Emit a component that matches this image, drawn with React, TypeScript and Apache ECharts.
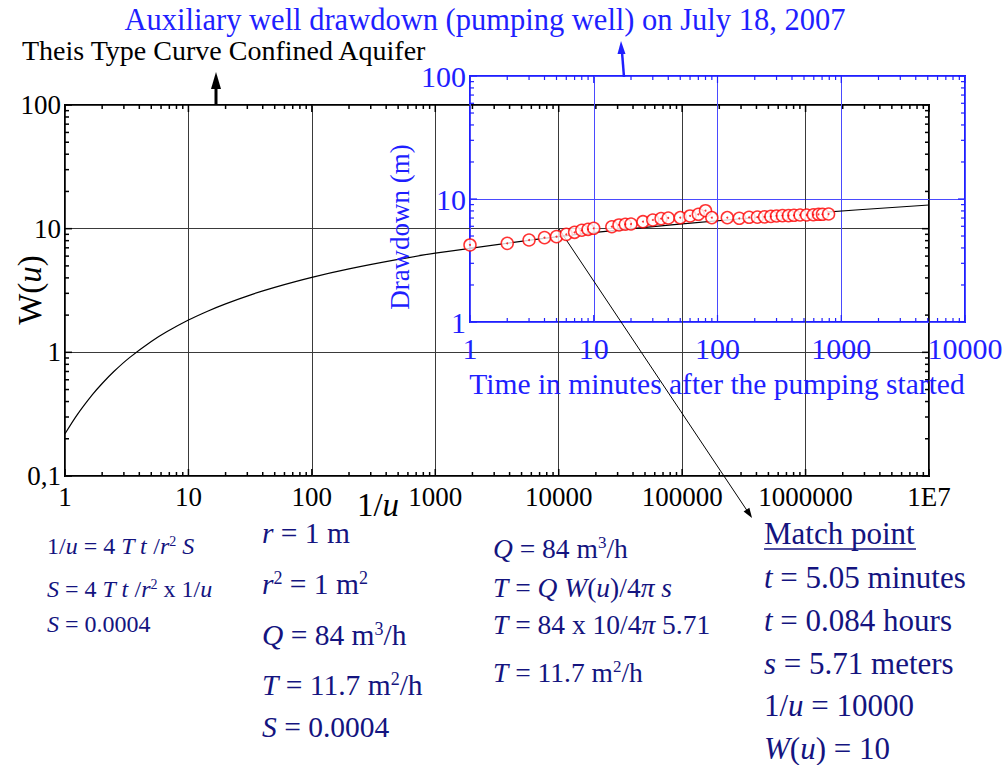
import React, { useEffect, useRef } from "react";
import * as echarts from "echarts";

// Theis well function W(u) tabulated against 1/u
const invU = [1, 1.25, 1.667, 2, 2.5, 3.333, 5, 6.667, 10, 14.29, 20, 33.33, 50, 100, 200, 500, 1000, 10000, 100000, 1000000, 10000000];
const wellW = [0.2194, 0.3106, 0.4544, 0.5598, 0.7024, 0.9057, 1.2227, 1.4645, 1.8229, 2.1508, 2.4679, 2.9591, 3.3547, 4.0379, 4.7261, 5.6394, 6.3315, 8.6332, 10.9357, 13.2383, 15.5409];

// Pumping-well drawdown, July 18, 2007
const timeMin = [1, 2, 3, 4, 5, 6, 7, 8, 9, 10, 14, 16, 18, 20, 25, 30, 35, 40, 50, 60, 70, 80, 90, 120, 150, 180, 210, 240, 270, 300, 335, 375, 415, 465, 525, 595, 655, 705, 790];
const drawdownM = [4.23, 4.36, 4.64, 4.85, 4.94, 5.16, 5.36, 5.57, 5.67, 5.78, 5.95, 6.15, 6.23, 6.26, 6.54, 6.75, 6.92, 7.01, 7.05, 7.28, 7.51, 8.03, 7.05, 7.05, 6.97, 7.1, 7.12, 7.16, 7.22, 7.28, 7.32, 7.32, 7.37, 7.41, 7.41, 7.45, 7.51, 7.51, 7.55];

// Axis ranges (decades)
const mainXRange = [1, 1e7];
const mainYRange = [0.1, 100];
const insetXRange = [1, 1e4];
const insetYRange = [1, 100];

const SERIF = "'Liberation Serif', 'DejaVu Serif', serif";
const BLUE = "#1f1fff";
const BLUE_GRID = "#4a4aff";
const NAVY = "#14147f";

// log-axis tick positions: decades plus 2..9 within each decade
function logTicks(min: number, max: number): number[] {
  const out: number[] = [];
  const e0 = Math.round(Math.log10(min));
  const e1 = Math.round(Math.log10(max));
  for (let e = e0; e <= e1; e++) {
    const base = Math.pow(10, e);
    out.push(base);
    if (e < e1) for (let m = 2; m <= 9; m++) out.push(m * base);
  }
  return out;
}

function isDecade(v: number) {
  const l = Math.log10(v);
  return Math.abs(l - Math.round(l)) < 1e-6;
}

function tickSeries(gi: number, xr: number[], yr: number[], color: string, major: number, minor: number, lw: number) {
  const style = { stroke: color, lineWidth: lw };
  const xs = {
    type: "custom",
    xAxisIndex: gi,
    yAxisIndex: gi,
    silent: true,
    clip: false,
    z: 5,
    data: logTicks(xr[0], xr[1]).map((v) => [v, yr[0]]),
    renderItem: (params: any, api: any) => {
      const cs = params.coordSys;
      const v = api.value(0);
      const px = api.coord([v, yr[0]])[0];
      const len = isDecade(v) ? major : minor;
      const b = cs.y + cs.height;
      return {
        type: "group",
        children: [
          { type: "line", shape: { x1: px, y1: b, x2: px, y2: b - len }, style },
          { type: "line", shape: { x1: px, y1: cs.y, x2: px, y2: cs.y + len }, style },
        ],
      };
    },
  };
  const ys = {
    type: "custom",
    xAxisIndex: gi,
    yAxisIndex: gi,
    silent: true,
    clip: false,
    z: 5,
    data: logTicks(yr[0], yr[1]).map((v) => [xr[0], v]),
    renderItem: (params: any, api: any) => {
      const cs = params.coordSys;
      const v = api.value(1);
      const py = api.coord([xr[0], v])[1];
      const len = isDecade(v) ? major : minor;
      const r = cs.x + cs.width;
      return {
        type: "group",
        children: [
          { type: "line", shape: { x1: cs.x, y1: py, x2: cs.x + len, y2: py }, style },
          { type: "line", shape: { x1: r, y1: py, x2: r - len, y2: py }, style },
        ],
      };
    },
  };
  return [xs, ys];
}

function richStyles(size: number) {
  return {
    i: { fontFamily: SERIF, fontSize: size, fontStyle: "italic", fill: NAVY },
    s: { fontFamily: SERIF, fontSize: Math.round(size * 0.6), fill: NAVY, verticalAlign: "top" },
  };
}

function formula(text: string, x: number, y: number, size: number) {
  return {
    type: "text",
    x,
    y,
    z: 20,
    style: {
      text,
      fontFamily: SERIF,
      fontSize: size,
      fill: NAVY,
      align: "left",
      verticalAlign: "middle",
      rich: richStyles(size),
    },
  };
}

function decadeLabel(v: number) {
  const e = Math.round(Math.log10(v));
  if (e === 7) return "1E7";
  if (e === -1) return "0,1";
  return String(Math.pow(10, e));
}

export default function App() {
  const ref = useRef<HTMLDivElement>(null);

  useEffect(() => {
    if (!ref.current) return;
    const chart = echarts.init(ref.current, undefined, { renderer: "svg" });

    const axisCommon = {
      type: "log",
      logBase: 10,
      axisLine: { show: false },
      axisTick: { show: false },
    };

    const option: any = {
      animation: false,
      backgroundColor: "#ffffff",
      grid: [
        { left: 65, top: 105, width: 864, height: 371, show: true, borderColor: "#000", borderWidth: 2, backgroundColor: "transparent", outerBoundsMode: "none", containLabel: false },
        { left: 470, top: 76, width: 495, height: 246, show: true, borderColor: BLUE, borderWidth: 2, backgroundColor: "transparent", outerBoundsMode: "none", containLabel: false },
      ],
      xAxis: [
        {
          ...axisCommon,
          gridIndex: 0,
          min: mainXRange[0],
          max: mainXRange[1],
          splitLine: { show: true, lineStyle: { color: "#3a3a3a", width: 1 } },
          axisLabel: { formatter: decadeLabel, fontFamily: SERIF, fontSize: 27, color: "#000", margin: 7, showMinLabel: true, showMaxLabel: true },
        },
        {
          ...axisCommon,
          gridIndex: 1,
          min: insetXRange[0],
          max: insetXRange[1],
          splitLine: { show: true, lineStyle: { color: BLUE_GRID, width: 1 } },
          axisLabel: { formatter: decadeLabel, fontFamily: SERIF, fontSize: 30, color: BLUE, margin: 11, showMinLabel: true, showMaxLabel: true },
        },
      ],
      yAxis: [
        {
          ...axisCommon,
          gridIndex: 0,
          min: mainYRange[0],
          max: mainYRange[1],
          splitLine: { show: true, lineStyle: { color: "#3a3a3a", width: 1 } },
          axisLabel: { formatter: decadeLabel, fontFamily: SERIF, fontSize: 27, color: "#000", margin: 4, showMinLabel: true, showMaxLabel: true },
        },
        {
          ...axisCommon,
          gridIndex: 1,
          min: insetYRange[0],
          max: insetYRange[1],
          splitLine: { show: true, lineStyle: { color: BLUE_GRID, width: 1 } },
          axisLabel: { formatter: decadeLabel, fontFamily: SERIF, fontSize: 30, color: BLUE, margin: 4, showMinLabel: true, showMaxLabel: true },
        },
      ],
      series: [
        ...tickSeries(0, mainXRange, mainYRange, "#000", 7, 4, 1.5),
        ...tickSeries(1, insetXRange, insetYRange, BLUE, 7, 4, 1.2),
        {
          name: "W(u)",
          type: "line",
          xAxisIndex: 0,
          yAxisIndex: 0,
          data: invU.map((x, i) => [x, wellW[i]]),
          showSymbol: false,
          smooth: 0.3,
          lineStyle: { color: "#000", width: 1.2 },
          silent: true,
          z: 6,
        },
        {
          name: "Drawdown",
          type: "scatter",
          xAxisIndex: 1,
          yAxisIndex: 1,
          data: timeMin.map((t, i) => [t, drawdownM[i]]),
          symbol: "circle",
          symbolSize: 12,
          itemStyle: { color: "#ffffff", borderColor: "#ff0000", borderWidth: 1.5 },
          z: 8,
        },
        {
          name: "Drawdown centre",
          type: "scatter",
          xAxisIndex: 1,
          yAxisIndex: 1,
          data: timeMin.map((t, i) => [t, drawdownM[i]]),
          symbol: "circle",
          symbolSize: 2,
          itemStyle: { color: "#ff0000" },
          z: 9,
        },
      ],
      graphic: [
        // titles
        {
          type: "text", x: 485, y: 20, z: 20,
          style: { text: "Auxiliary well drawdown (pumping well) on July 18, 2007", fontFamily: SERIF, fontSize: 30.5, fill: BLUE, align: "center", verticalAlign: "middle" },
        },
        {
          type: "text", x: 22, y: 50, z: 20,
          style: { text: "Theis Type Curve Confined Aquifer", fontFamily: SERIF, fontSize: 28, fill: "#000", align: "left", verticalAlign: "middle" },
        },
        // arrow to the type-curve title
        { type: "line", z: 20, shape: { x1: 216, y1: 105, x2: 216, y2: 86 }, style: { stroke: "#000", lineWidth: 3 } },
        { type: "polygon", z: 20, shape: { points: [[216, 72], [211, 89], [221, 89]] }, style: { fill: "#000" } },
        // arrow to the drawdown title
        { type: "line", z: 20, shape: { x1: 624, y1: 77, x2: 622, y2: 52 }, style: { stroke: BLUE, lineWidth: 2.5 } },
        { type: "polygon", z: 20, shape: { points: [[621, 41], [617.5, 54], [625.5, 54]] }, style: { fill: BLUE } },
        // match-point arrow
        { type: "line", z: 7, shape: { x1: 559, y1: 229, x2: 750, y2: 515 }, style: { stroke: "#000", lineWidth: 1 } },
        { type: "polygon", z: 20, shape: { points: [[752, 518], [743.6, 511.6], [749.4, 507.8]] }, style: { fill: "#000" } },
        // axis titles
        {
          type: "text", x: 30, y: 290, rotation: Math.PI / 2, z: 20,
          style: { text: "W({i|u})", fontFamily: SERIF, fontSize: 33, fill: "#000", align: "center", verticalAlign: "middle", rich: { i: { fontFamily: SERIF, fontSize: 33, fontStyle: "italic", fill: "#000" } } },
        },
        {
          type: "text", x: 378, y: 505, z: 20,
          style: { text: "1/{i|u}", fontFamily: SERIF, fontSize: 33, fill: "#000", align: "center", verticalAlign: "middle", rich: { i: { fontFamily: SERIF, fontSize: 33, fontStyle: "italic", fill: "#000" } } },
        },
        {
          type: "text", x: 400, y: 227, rotation: Math.PI / 2, z: 20,
          style: { text: "Drawdown (m)", fontFamily: SERIF, fontSize: 27, fill: BLUE, align: "center", verticalAlign: "middle" },
        },
        {
          type: "text", x: 717, y: 384, z: 20,
          style: { text: "Time in minutes after the pumping started", fontFamily: SERIF, fontSize: 29.5, fill: BLUE, align: "center", verticalAlign: "middle" },
        },
        // formulas, left block
        formula("1/{i|u} = 4 {i|T t} /{i|r}{s|2} {i|S}", 47, 546, 24),
        formula("{i|S} = 4 {i|T t} /{i|r}{s|2} x 1/{i|u}", 47, 589, 24),
        formula("{i|S} = 0.0004", 47, 624, 24),
        // middle block
        formula("{i|r} = 1 m", 262, 533, 29.5),
        formula("{i|r}{s|2} = 1 m{s|2}", 262, 584, 29.5),
        formula("{i|Q} = 84 m{s|3}/h", 262, 635, 29.5),
        formula("{i|T} = 11.7 m{s|2}/h", 262, 685, 29.5),
        formula("{i|S} = 0.0004", 262, 727, 29.5),
        // transmissivity block
        formula("{i|Q} = 84 m{s|3}/h", 493, 548, 27.5),
        formula("{i|T} = {i|Q W}({i|u})/4{i|π s}", 493, 587, 27.5),
        formula("{i|T} = 84 x 10/4{i|π} 5.71", 493, 624, 27.5),
        formula("{i|T} = 11.7 m{s|2}/h", 493, 672, 27.5),
        // match point block
        formula("Match point", 764, 533, 31),
        { type: "line", z: 20, shape: { x1: 764, y1: 549, x2: 916, y2: 549 }, style: { stroke: NAVY, lineWidth: 1.5 } },
        formula("{i|t} = 5.05 minutes", 764, 577, 31),
        formula("{i|t} = 0.084 hours", 764, 620, 31),
        formula("{i|s} = 5.71 meters", 764, 663, 31),
        formula("1/{i|u} = 10000", 764, 705, 31),
        formula("{i|W}({i|u}) = 10", 764, 748, 31),
      ],
    };

    chart.setOption(option);
    return () => chart.dispose();
  }, []);

  return (
    <div
      ref={ref}
      style={{ position: "fixed", left: 0, top: 0, width: 1007, height: 765, background: "#fff" }}
    />
  );
}
